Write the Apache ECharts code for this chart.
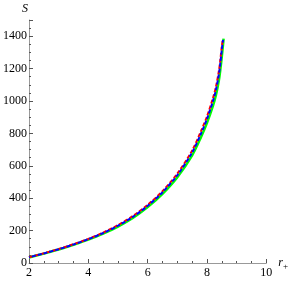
<!DOCTYPE html>
<html><head><meta charset="utf-8">
<script src="https://cdn.jsdelivr.net/npm/echarts@6/dist/echarts.min.js"></script>
<style>html,body{margin:0;padding:0;background:#fff}#c{width:291px;height:281px}</style>
</head><body><div id="c"></div>
<script>
const rRed   = [2.0, 2.5, 3.0, 3.5, 4.0, 4.5, 5.0, 5.5, 6.0, 6.5, 7.0, 7.5, 7.8, 8.0, 8.2, 8.3, 8.4, 8.45, 8.5, 8.53];
const sRed   = [36, 60, 86, 116, 149, 188, 234, 290, 359, 444, 552, 695, 815, 905, 1018, 1087, 1185, 1255, 1340, 1375];
const rBlue  = [2.0, 2.5, 3.0, 3.5, 4.0, 4.5, 5.0, 5.5, 6.0, 6.5, 7.0, 7.5, 7.8, 8.0, 8.2, 8.3, 8.4, 8.45, 8.5, 8.54];
const sBlue  = [35, 59, 85, 114, 147, 185, 230, 285, 353, 437, 543, 683, 800, 890, 1000, 1068, 1165, 1235, 1320, 1378];
const rGreen = [2.0, 2.5, 3.0, 3.5, 4.0, 4.5, 5.0, 5.5, 6.0, 6.5, 7.0, 7.5, 7.8, 8.0, 8.2, 8.3, 8.4, 8.45, 8.5, 8.56];
const sGreen = [34, 58, 83, 112, 144, 181, 225, 278, 345, 427, 530, 665, 778, 865, 970, 1035, 1128, 1195, 1275, 1385];
const xTicks = [2, 4, 6, 8, 10];
const yTicks = [0, 200, 400, 600, 800, 1000, 1200, 1400];

const pairs = (r, s) => r.map((v, i) => [v, s[i]]);
const font = 'Liberation Serif';
const axisCol = '#999';
const chart = echarts.init(document.getElementById('c'));
chart.setOption({
  animation: false,
  grid: {left: 28, right: 18, top: 20, bottom: 18},
  xAxis: {
    type: 'value', min: 2, max: 10, interval: 2,
    axisLine: {onZero: false, lineStyle: {color: axisCol, width: 1}},
    axisTick: {inside: true, length: 4, lineStyle: {color: '#555'}},
    minorTick: {show: true, splitNumber: 4, length: 2, lineStyle: {color: '#555'}},
    splitLine: {show: false},
    axisLabel: {color: '#000', fontFamily: font, fontSize: 12, margin: 4,
      formatter: v => xTicks.includes(v) ? String(v) : ''},
    name: '{i|r}{s|+}', nameLocation: 'end', nameGap: 4,
    nameTextStyle: {rich: {i: {fontFamily: font, fontStyle: 'italic', fontSize: 12, color: '#000'},
                           s: {fontFamily: font, fontSize: 9, color: '#000', verticalAlign: 'bottom', padding: [8,0,0,0]}}}
  },
  yAxis: {
    type: 'value', min: 0, max: 1500, interval: 200,
    axisLine: {onZero: false, lineStyle: {color: axisCol, width: 1}},
    axisTick: {inside: true, length: 4, lineStyle: {color: '#555'}},
    minorTick: {show: true, splitNumber: 4, length: 2, lineStyle: {color: '#555'}},
    splitLine: {show: false},
    axisLabel: {color: '#000', fontFamily: font, fontSize: 12, margin: 2,
      formatter: v => yTicks.includes(v) ? String(v) : ''},
    name: 'S', nameLocation: 'end', nameGap: 5,
    nameTextStyle: {fontFamily: font, fontStyle: 'italic', fontSize: 12, color: '#000', padding: [0, 0, 0, -8]}
  },
  series: [
    {type: 'line', data: pairs(rGreen, sGreen), smooth: 0.3, showSymbol: false,
     lineStyle: {color: '#00ff00', width: 2.5}},
    {type: 'line', data: pairs(rRed, sRed), smooth: 0.3, showSymbol: false,
     lineStyle: {color: '#ff0000', width: 2, type: [4, 2]}},
    {type: 'line', data: pairs(rBlue, sBlue), smooth: 0.3, showSymbol: false,
     lineStyle: {color: '#0000ff', width: 2, type: [4, 2], dashOffset: 3}}
  ]
});
</script></body></html>
